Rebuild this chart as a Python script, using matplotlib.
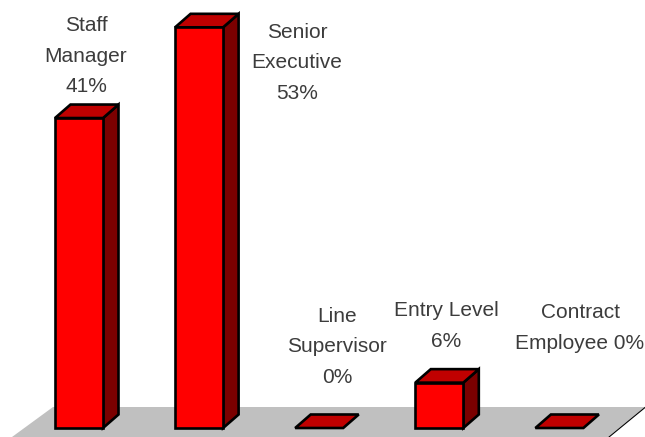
import matplotlib
matplotlib.use("Agg")
import matplotlib.pyplot as plt
from matplotlib.patches import Polygon, Rectangle

names = ["Staff\nManager", "Senior\nExecutive", "Line\nSupervisor", "Entry Level", "Contract\nEmployee"]
seps = ["\n", "\n", "\n", "\n", " "]
values = [41, 53, 0, 6, 0]

W, H = 645, 437
X0, XS = 79, 120.1         # pixel of first bar centre, pixels per category
Y0, YS = 428, 7.56         # pixel of zero line, pixels per percent

fig = plt.figure(figsize=(W / 100, H / 100), dpi=100, facecolor="white")
ax = fig.add_axes([0, 0, 1, 1])
ax.set_xlim((0 - X0) / XS, (W - X0) / XS)
ax.set_ylim((Y0 - H) / YS, Y0 / YS)
ax.axis("off")

bw = 48 / XS
dx = 15.5 / XS
dy = 13.5 / YS
edge = dict(edgecolor="black", linewidth=1.9, joinstyle="miter")


def px(x, y):
    return (x - X0) / XS, (Y0 - y) / YS


# floor
ax.add_patch(Polygon([px(53, 407), px(645, 407), px(608, 437), px(12, 437)],
                     facecolor="#C0C0C0", edgecolor="none", zorder=1))
ax.plot(*zip(px(645, 407.5), px(609, 437)), color="black", lw=0.8, zorder=2)

for i, v in enumerate(values):
    l, r = i - bw / 2, i + bw / 2
    if v > 0:
        ax.add_patch(Polygon([(r, 0), (r + dx, dy), (r + dx, v + dy), (r, v)],
                             facecolor="#7B0000", zorder=3, **edge))
    ax.add_patch(Polygon([(l, v), (r, v), (r + dx, v + dy), (l + dx, v + dy)],
                         facecolor="#C00000", zorder=3, **edge))
    if v > 0:
        ax.add_patch(Rectangle((l, 0), bw, v, facecolor="#FF0000", zorder=4, **edge))

# labels: pixel centre x, centre y of block
label_pos = [(86, 56), (297, 63), (337, 347), (446, 326), (580, 328)]
for name, sep, v, (lx, ly) in zip(names, seps, values, label_pos):
    x, y = px(lx, ly)
    ax.text(x, y, f"{name}{sep}{v}%", ha="center", va="center", ma="center",
            fontsize=15, family="Liberation Sans", color="#3C3C3C",
            linespacing=1.76, zorder=5)

fig.savefig("out.png", dpi=100, facecolor="white")
